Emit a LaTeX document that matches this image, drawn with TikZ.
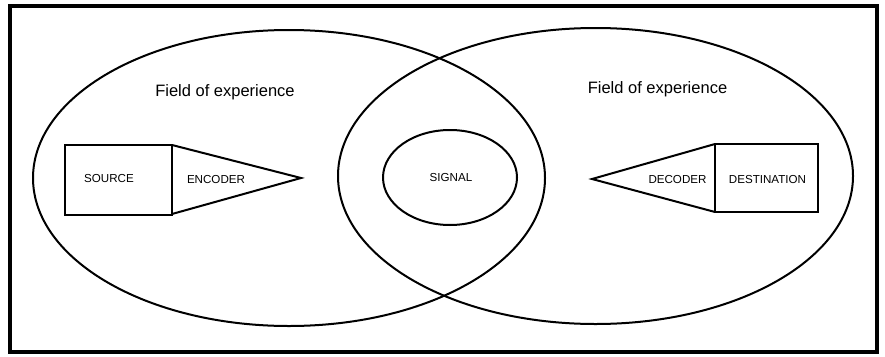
\documentclass[tikz,border=0pt]{standalone}
\usepackage{fontspec}
\setmainfont{Liberation Sans}
\usetikzlibrary{shapes.geometric}
\begin{document}
\begin{tikzpicture}[x=1pt,y=-1pt,
  frame/.style={line width=4pt},
  field/.style={line width=2pt},
  part/.style={line width=2pt, line join=miter},
  lbl/.style={font=\fontsize{11.6}{13}\selectfont, inner sep=0pt},
  fieldlbl/.style={font=\fontsize{16.5}{18}\selectfont, inner sep=0pt, anchor=base}]
\useasboundingbox (0,0) rectangle (885,356);
\draw[frame] (9.5,5.5) rectangle (877,352);
% fields of experience
\draw[field] (289,178) ellipse [x radius=256, y radius=148];
\draw[field] (595.5,176) ellipse [x radius=257.5, y radius=148];
\node[fieldlbl] (fl) at (225,96) {Field of experience};
\node[fieldlbl] (fr) at (657.5,93) {Field of experience};
% signal
\draw[field] (450,177.5) ellipse [x radius=67, y radius=47.5];
\node[lbl] (sig) at (451,178) {SIGNAL};
% source / encoder
\draw[part] (65,145) rectangle (172,215);
\draw[part] (172,145) -- (301,178) -- (172,214);
\node[lbl] (src) at (109,179) {SOURCE};
\node[lbl] (enc) at (216,180) {ENCODER};
% decoder / destination
\draw[part] (715,144) rectangle (818,212);
\draw[part] (715,144) -- (592,179) -- (715,212);
\node[lbl] (dec) at (677.5,180) {DECODER};
\node[lbl] (dst) at (767.5,180) {DESTINATION};
\end{tikzpicture}
\end{document}
